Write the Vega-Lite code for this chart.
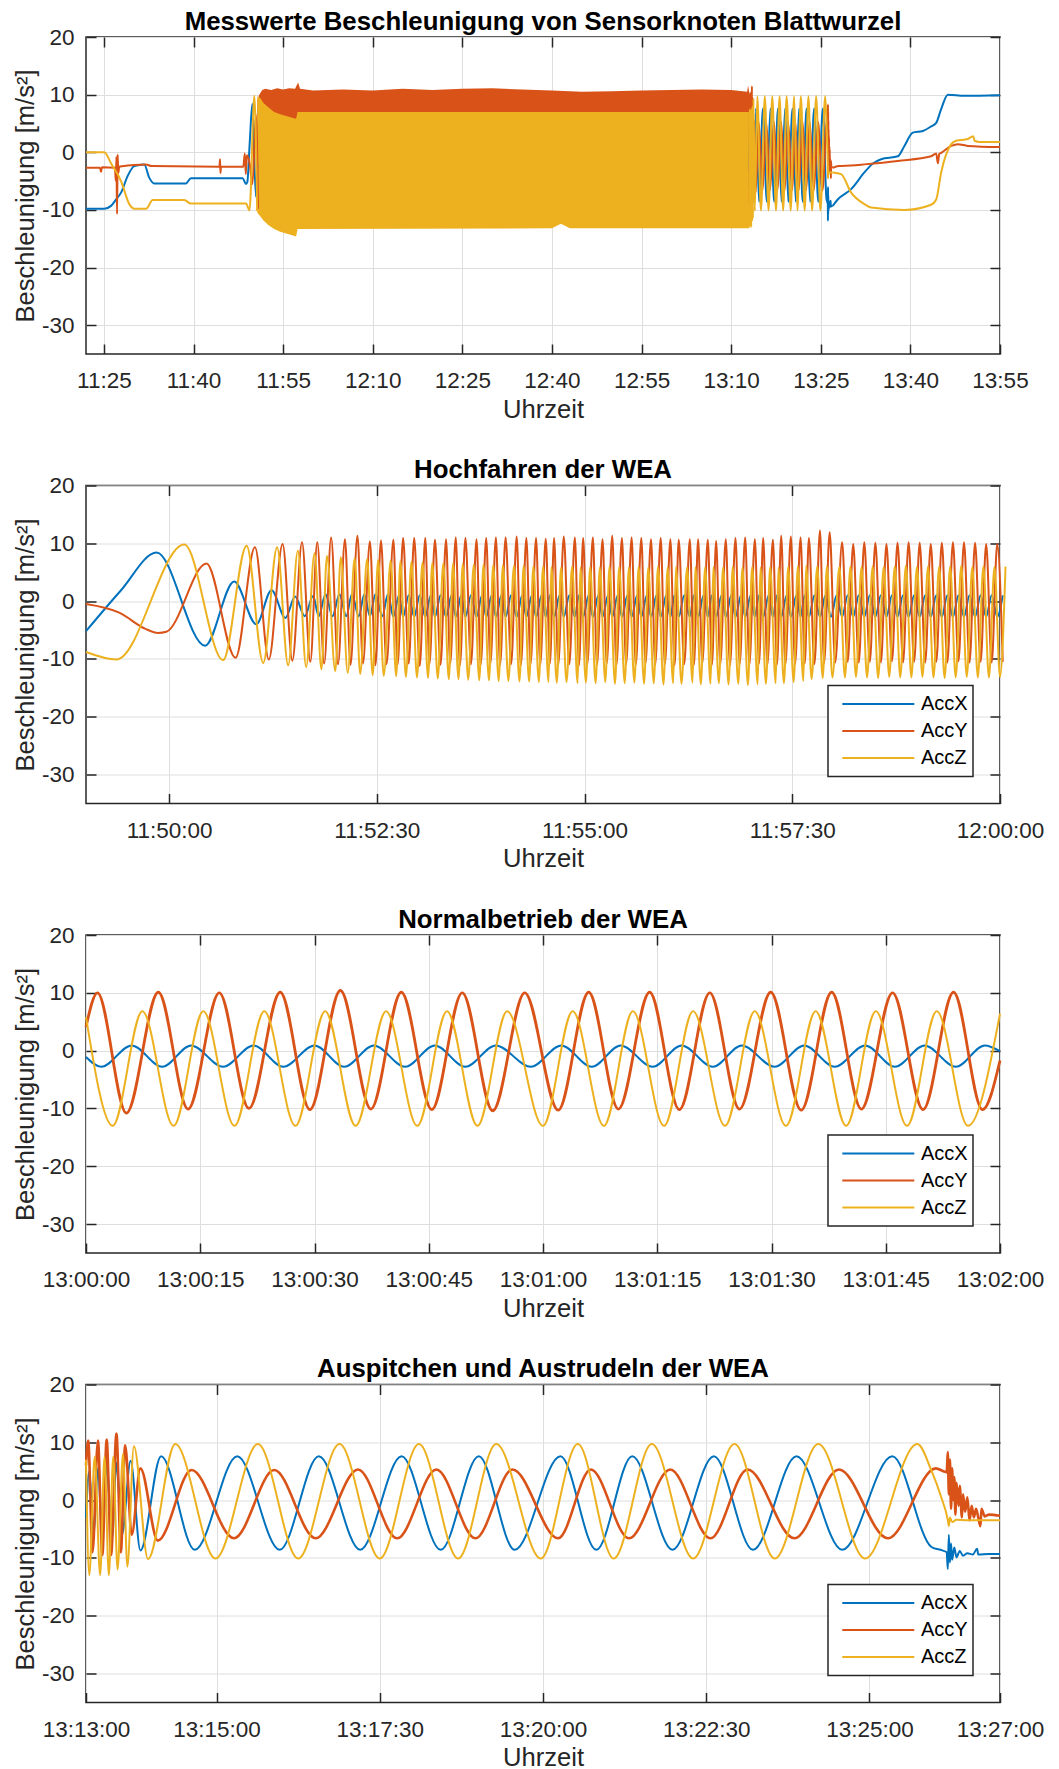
{
  "$schema": "https://vega.github.io/schema/vega-lite/v6.json",
  "background": "white",
  "padding": {"left": 12, "top": 7, "right": 0, "bottom": 0},
  "spacing": 31.5,
  "config": {
    "font": "Liberation Sans",
    "view": {"stroke": "#262626", "strokeWidth": 1.5},
    "axis": {
      "labelFont": "Liberation Sans", "labelFontSize": 22.5, "labelColor": "#262626",
      "titleFont": "Liberation Sans", "titleFontSize": 25.6, "titleFontWeight": "normal", "titleColor": "#262626",
      "tickColor": "#262626", "tickWidth": 1.5, "tickSize": -10, "domain": false,
      "gridColor": "#dedede", "gridWidth": 1,
      "labelOverlap": false, "labelFlush": false, "labelBound": false
    },
    "axisX": {"labelPadding": 25.6, "titlePadding": 5},
    "axisY": {"labelPadding": 22, "titlePadding": 3, "labelExpr": "'' + datum.value"},
    "title": {"font": "Liberation Sans", "fontSize": 25.8, "fontWeight": "bold", "color": "#000000", "anchor": "middle", "frame": "group", "offset": -9.5, "baseline": "alphabetic"},
    "legend": {
      "orient": "none", "legendX": 742, "legendY": 200,
      "labelFont": "Liberation Sans", "labelFontSize": 20, "labelColor": "#000000",
      "symbolType": "stroke", "symbolSize": 5184, "symbolStrokeWidth": 2.5,
      "clipHeight": 27, "rowPadding": 0, "labelOffset": 5.7, "symbolOffset": 8.3,
      "padding": 5, "strokeColor": "#262626", "strokeWidth": 1.5, "fillColor": "#ffffff", "cornerRadius": 0
    },
    "line": {"strokeWidth": 2, "interpolate": "monotone", "clip": true},
    "area": {"clip": true}
  },
  "resolve": {"scale": {"color": "independent"}, "legend": {"color": "independent"}},
  "datasets": {
    "band": [
      {"t": "11:50:40", "s": "AccX", "lo": -4.0, "hi": 3.4},
      {"t": "11:51:20", "s": "AccX", "lo": -2.9, "hi": 1.9},
      {"t": "11:52:00", "s": "AccX", "lo": -2.7, "hi": 1.1},
      {"t": "13:13:00", "s": "AccX", "lo": -2.7, "hi": 1.0},
      {"t": "11:50:40", "s": "AccY", "lo": -10.0, "hi": 9.0},
      {"t": "11:51:00", "s": "AccY", "lo": -10.3, "hi": 10.0},
      {"t": "11:51:30", "s": "AccY", "lo": -10.6, "hi": 10.8},
      {"t": "11:52:00", "s": "AccY", "lo": -10.8, "hi": 11.0},
      {"t": "11:53:00", "s": "AccY", "lo": -10.8, "hi": 10.8},
      {"t": "11:54:00", "s": "AccY", "lo": -10.8, "hi": 11.1},
      {"t": "11:55:00", "s": "AccY", "lo": -10.8, "hi": 10.9},
      {"t": "11:56:00", "s": "AccY", "lo": -10.8, "hi": 11.1},
      {"t": "11:57:00", "s": "AccY", "lo": -10.8, "hi": 11.0},
      {"t": "11:57:30", "s": "AccY", "lo": -10.8, "hi": 12.1},
      {"t": "11:57:50", "s": "AccY", "lo": -10.6, "hi": 11.0},
      {"t": "12:00:00", "s": "AccY", "lo": -10.6, "hi": 10.7},
      {"t": "12:05:00", "s": "AccY", "lo": -10.6, "hi": 10.9},
      {"t": "12:10:00", "s": "AccY", "lo": -10.6, "hi": 10.7},
      {"t": "12:15:00", "s": "AccY", "lo": -10.6, "hi": 11.0},
      {"t": "12:20:00", "s": "AccY", "lo": -10.6, "hi": 10.8},
      {"t": "12:25:00", "s": "AccY", "lo": -10.6, "hi": 11.0},
      {"t": "12:30:00", "s": "AccY", "lo": -10.6, "hi": 11.1},
      {"t": "12:35:00", "s": "AccY", "lo": -10.6, "hi": 10.9},
      {"t": "12:40:00", "s": "AccY", "lo": -10.6, "hi": 10.7},
      {"t": "12:45:00", "s": "AccY", "lo": -10.6, "hi": 10.5},
      {"t": "12:50:00", "s": "AccY", "lo": -10.6, "hi": 10.6},
      {"t": "12:55:00", "s": "AccY", "lo": -10.6, "hi": 10.7},
      {"t": "13:00:00", "s": "AccY", "lo": -10.6, "hi": 10.8},
      {"t": "13:05:00", "s": "AccY", "lo": -10.6, "hi": 10.9},
      {"t": "13:10:00", "s": "AccY", "lo": -10.6, "hi": 10.8},
      {"t": "13:12:40", "s": "AccY", "lo": -10.6, "hi": 10.5},
      {"t": "13:12:50", "s": "AccY", "lo": -10.6, "hi": 11.6},
      {"t": "13:13:00", "s": "AccY", "lo": -10.6, "hi": 10.5},
      {"t": "11:50:40", "s": "AccZ", "lo": -10.5, "hi": 9.7},
      {"t": "11:51:10", "s": "AccZ", "lo": -11.1, "hi": 9.4},
      {"t": "11:51:40", "s": "AccZ", "lo": -11.8, "hi": 8.6},
      {"t": "11:52:30", "s": "AccZ", "lo": -12.6, "hi": 7.8},
      {"t": "11:53:30", "s": "AccZ", "lo": -13.3, "hi": 7.0},
      {"t": "11:54:30", "s": "AccZ", "lo": -13.8, "hi": 6.6},
      {"t": "11:55:30", "s": "AccZ", "lo": -14.1, "hi": 6.3},
      {"t": "11:56:30", "s": "AccZ", "lo": -14.4, "hi": 6.0},
      {"t": "11:57:10", "s": "AccZ", "lo": -14.6, "hi": 5.8},
      {"t": "11:57:25", "s": "AccZ", "lo": -13.3, "hi": 7.0},
      {"t": "12:40:00", "s": "AccZ", "lo": -13.2, "hi": 7.0},
      {"t": "12:41:30", "s": "AccZ", "lo": -12.4, "hi": 7.0},
      {"t": "12:43:00", "s": "AccZ", "lo": -13.2, "hi": 7.0},
      {"t": "13:13:00", "s": "AccZ", "lo": -13.2, "hi": 7.0}
    ],
    "p1a": [
      {"t": "11:22:00", "s": "AccX", "v": -9.8}, {"t": "11:25:04", "s": "AccX", "v": -9.8}, {"t": "11:26:11", "s": "AccX", "v": -9.3},
      {"t": "11:27:01", "s": "AccX", "v": -8.2}, {"t": "11:27:52", "s": "AccX", "v": -7.0}, {"t": "11:28:59", "s": "AccX", "v": -4.1},
      {"t": "11:30:04", "s": "AccX", "v": -2.4}, {"t": "11:31:45", "s": "AccX", "v": -2.1}, {"t": "11:32:35", "s": "AccX", "v": -4.4},
      {"t": "11:33:26", "s": "AccX", "v": -5.4}, {"t": "11:38:44", "s": "AccX", "v": -5.4}, {"t": "11:39:34", "s": "AccX", "v": -4.5},
      {"t": "11:48:14", "s": "AccX", "v": -4.5}, {"t": "11:48:47", "s": "AccX", "v": -5.5}, {"t": "11:49:00", "s": "AccX", "v": -5.2},
      {"t": "11:49:25", "s": "AccX", "v": 1.8}, {"t": "11:49:51", "s": "AccX", "v": 8.4}, {"t": "11:50:26", "s": "AccX", "v": -7.7},
      {"t": "11:50:40", "s": "AccX", "v": -2.0},
      {"t": "11:22:00", "s": "AccY", "v": -2.7}, {"t": "11:24:20", "s": "AccY", "v": -2.7}, {"t": "11:24:31", "s": "AccY", "v": -3.4},
      {"t": "11:24:40", "s": "AccY", "v": -2.6}, {"t": "11:26:50", "s": "AccY", "v": -2.7}, {"t": "11:27:00", "s": "AccY", "v": -5.0},
      {"t": "11:27:05", "s": "AccY", "v": -0.8}, {"t": "11:27:12", "s": "AccY", "v": -10.7}, {"t": "11:27:18", "s": "AccY", "v": -0.4},
      {"t": "11:27:24", "s": "AccY", "v": -3.6}, {"t": "11:27:35", "s": "AccY", "v": -2.5}, {"t": "11:30:00", "s": "AccY", "v": -2.2},
      {"t": "11:32:00", "s": "AccY", "v": -2.1}, {"t": "11:33:00", "s": "AccY", "v": -2.4}, {"t": "11:44:20", "s": "AccY", "v": -2.5},
      {"t": "11:44:26", "s": "AccY", "v": -1.2}, {"t": "11:44:30", "s": "AccY", "v": -3.6}, {"t": "11:44:36", "s": "AccY", "v": -2.5},
      {"t": "11:48:20", "s": "AccY", "v": -2.5}, {"t": "11:48:35", "s": "AccY", "v": -0.2}, {"t": "11:48:45", "s": "AccY", "v": -3.8},
      {"t": "11:48:55", "s": "AccY", "v": -0.5}, {"t": "11:49:24", "s": "AccY", "v": -2.0}, {"t": "11:49:43", "s": "AccY", "v": -4.8},
      {"t": "11:49:52", "s": "AccY", "v": -5.5}, {"t": "11:50:27", "s": "AccY", "v": 6.5}, {"t": "11:50:48", "s": "AccY", "v": -9.8},
      {"t": "11:22:00", "s": "AccZ", "v": 0.0}, {"t": "11:25:04", "s": "AccZ", "v": 0.0}, {"t": "11:26:11", "s": "AccZ", "v": -1.9},
      {"t": "11:27:52", "s": "AccZ", "v": -5.0}, {"t": "11:29:15", "s": "AccZ", "v": -9.0}, {"t": "11:30:04", "s": "AccZ", "v": -9.8},
      {"t": "11:32:03", "s": "AccZ", "v": -9.8}, {"t": "11:33:10", "s": "AccZ", "v": -8.3}, {"t": "11:38:27", "s": "AccZ", "v": -8.3},
      {"t": "11:39:34", "s": "AccZ", "v": -8.9}, {"t": "11:48:47", "s": "AccZ", "v": -8.9}, {"t": "11:49:22", "s": "AccZ", "v": -10.1},
      {"t": "11:50:11", "s": "AccZ", "v": 9.8}, {"t": "11:50:39", "s": "AccZ", "v": -10.2}
    ],
    "p1b": [
      {"t": "13:27:00", "s": "AccX", "v": -9.3}, {"t": "13:27:50", "s": "AccX", "v": -8.2}, {"t": "13:30:05", "s": "AccX", "v": -6.4},
      {"t": "13:32:18", "s": "AccX", "v": -3.5}, {"t": "13:33:40", "s": "AccX", "v": -2.0}, {"t": "13:35:06", "s": "AccX", "v": -1.2},
      {"t": "13:37:54", "s": "AccX", "v": -0.7}, {"t": "13:39:00", "s": "AccX", "v": 1.1}, {"t": "13:40:24", "s": "AccX", "v": 3.4},
      {"t": "13:42:05", "s": "AccX", "v": 3.7}, {"t": "13:43:29", "s": "AccX", "v": 4.5}, {"t": "13:44:19", "s": "AccX", "v": 5.1},
      {"t": "13:45:09", "s": "AccX", "v": 7.5}, {"t": "13:46:16", "s": "AccX", "v": 10.0}, {"t": "13:49:03", "s": "AccX", "v": 9.8},
      {"t": "13:55:00", "s": "AccX", "v": 9.9},
      {"t": "13:27:00", "s": "AccY", "v": -2.7}, {"t": "13:28:00", "s": "AccY", "v": -2.4}, {"t": "13:30:05", "s": "AccY", "v": -2.3},
      {"t": "13:32:18", "s": "AccY", "v": -2.1}, {"t": "13:37:54", "s": "AccY", "v": -1.5}, {"t": "13:43:29", "s": "AccY", "v": -0.7},
      {"t": "13:44:19", "s": "AccY", "v": -0.2}, {"t": "13:44:36", "s": "AccY", "v": -1.9}, {"t": "13:44:50", "s": "AccY", "v": -0.3},
      {"t": "13:45:09", "s": "AccY", "v": -0.1}, {"t": "13:46:50", "s": "AccY", "v": 1.1}, {"t": "13:47:57", "s": "AccY", "v": 1.4},
      {"t": "13:49:36", "s": "AccY", "v": 1.1}, {"t": "13:55:00", "s": "AccY", "v": 0.9},
      {"t": "13:27:00", "s": "AccZ", "v": -3.5}, {"t": "13:28:24", "s": "AccZ", "v": -3.8}, {"t": "13:30:05", "s": "AccZ", "v": -7.0},
      {"t": "13:32:18", "s": "AccZ", "v": -9.0}, {"t": "13:33:25", "s": "AccZ", "v": -9.6}, {"t": "13:39:00", "s": "AccZ", "v": -10.0},
      {"t": "13:43:29", "s": "AccZ", "v": -9.1}, {"t": "13:44:19", "s": "AccZ", "v": -8.2}, {"t": "13:45:09", "s": "AccZ", "v": -3.5},
      {"t": "13:46:50", "s": "AccZ", "v": 1.4}, {"t": "13:47:40", "s": "AccZ", "v": 2.0}, {"t": "13:49:36", "s": "AccZ", "v": 2.3},
      {"t": "13:50:30", "s": "AccZ", "v": 2.8}, {"t": "13:50:45", "s": "AccZ", "v": 2.0}, {"t": "13:51:33", "s": "AccZ", "v": 1.8},
      {"t": "13:55:00", "s": "AccZ", "v": 1.8}
    ],
    "p2": [
      {"t":"11:49:00","s":"AccX","v":-5.2},{"t":"11:49:25","s":"AccX","v":1.8},{"t":"11:49:51","s":"AccX","v":8.4},{"t":"11:50:26","s":"AccX","v":-7.7},
      {"t":"11:50:47","s":"AccX","v":3.4},{"t":"11:51:03","s":"AccX","v":-4.0},{"t":"11:51:14","s":"AccX","v":1.9},{"t":"11:51:24","s":"AccX","v":-2.9},
      {"t":"11:51:31","s":"AccX","v":0.8},{"t":"11:51:38","s":"AccX","v":-2.6},{"t":"11:51:44","s":"AccX","v":0.9},
      {"t":"11:51:48","s":"AccX","v":-2.6},{"t":"11:51:53","s":"AccX","v":1.2},{"t":"11:51:58","s":"AccX","v":-2.6},{"t":"11:52:03","s":"AccX","v":1.2},
      {"t":"11:52:08","s":"AccX","v":-2.6},{"t":"11:52:12","s":"AccX","v":1.2},{"t":"11:52:17","s":"AccX","v":-2.6},{"t":"11:52:21","s":"AccX","v":1.2},
      {"t":"11:52:25","s":"AccX","v":-2.6},{"t":"11:52:29","s":"AccX","v":1.2},{"t":"11:52:34","s":"AccX","v":-2.6},{"t":"11:52:38","s":"AccX","v":1.2},
      {"t":"11:52:42","s":"AccX","v":-2.7},{"t":"11:52:46","s":"AccX","v":1.0},{"t":"11:52:49","s":"AccX","v":-2.7},{"t":"11:52:53","s":"AccX","v":1.0},
      {"t":"11:52:57","s":"AccX","v":-2.7},{"t":"11:53:01","s":"AccX","v":1.0},{"t":"11:53:05","s":"AccX","v":-2.7},{"t":"11:53:09","s":"AccX","v":1.0},
      {"t":"11:53:12","s":"AccX","v":-2.7},{"t":"11:53:16","s":"AccX","v":1.0},{"t":"11:53:20","s":"AccX","v":-2.7},{"t":"11:53:24","s":"AccX","v":1.0},
      {"t":"11:53:27","s":"AccX","v":-2.7},{"t":"11:53:31","s":"AccX","v":1.0},{"t":"11:53:34","s":"AccX","v":-2.7},{"t":"11:53:38","s":"AccX","v":1.0},
      {"t":"11:53:42","s":"AccX","v":-2.7},{"t":"11:53:46","s":"AccX","v":1.0},{"t":"11:53:49","s":"AccX","v":-2.7},{"t":"11:53:53","s":"AccX","v":1.0},
      {"t":"11:53:56","s":"AccX","v":-2.7},{"t":"11:54:00","s":"AccX","v":1.0},{"t":"11:54:03","s":"AccX","v":-2.7},{"t":"11:54:07","s":"AccX","v":1.0},
      {"t":"11:54:11","s":"AccX","v":-2.7},{"t":"11:54:15","s":"AccX","v":1.0},{"t":"11:54:18","s":"AccX","v":-2.7},{"t":"11:54:22","s":"AccX","v":1.0},
      {"t":"11:54:25","s":"AccX","v":-2.7},{"t":"11:54:29","s":"AccX","v":1.0},{"t":"11:54:32","s":"AccX","v":-2.7},{"t":"11:54:35","s":"AccX","v":1.0},
      {"t":"11:54:38","s":"AccX","v":-2.7},{"t":"11:54:42","s":"AccX","v":1.0},{"t":"11:54:45","s":"AccX","v":-2.7},{"t":"11:54:49","s":"AccX","v":1.0},
      {"t":"11:54:53","s":"AccX","v":-2.7},{"t":"11:54:56","s":"AccX","v":1.0},{"t":"11:54:59","s":"AccX","v":-2.7},{"t":"11:55:03","s":"AccX","v":1.0},
      {"t":"11:55:06","s":"AccX","v":-2.7},{"t":"11:55:10","s":"AccX","v":1.0},{"t":"11:55:13","s":"AccX","v":-2.7},{"t":"11:55:17","s":"AccX","v":1.0},
      {"t":"11:55:20","s":"AccX","v":-2.7},{"t":"11:55:24","s":"AccX","v":1.0},{"t":"11:55:27","s":"AccX","v":-2.7},{"t":"11:55:31","s":"AccX","v":1.0},
      {"t":"11:55:34","s":"AccX","v":-2.7},{"t":"11:55:38","s":"AccX","v":1.0},{"t":"11:55:41","s":"AccX","v":-2.7},{"t":"11:55:45","s":"AccX","v":1.0},
      {"t":"11:55:48","s":"AccX","v":-2.7},{"t":"11:55:52","s":"AccX","v":1.0},{"t":"11:55:55","s":"AccX","v":-2.7},{"t":"11:55:59","s":"AccX","v":1.0},
      {"t":"11:56:02","s":"AccX","v":-2.7},{"t":"11:56:05","s":"AccX","v":1.0},{"t":"11:56:08","s":"AccX","v":-2.7},{"t":"11:56:12","s":"AccX","v":1.0},
      {"t":"11:56:16","s":"AccX","v":-2.7},{"t":"11:56:19","s":"AccX","v":1.0},{"t":"11:56:22","s":"AccX","v":-2.7},{"t":"11:56:26","s":"AccX","v":1.0},
      {"t":"11:56:29","s":"AccX","v":-2.7},{"t":"11:56:32","s":"AccX","v":1.0},{"t":"11:56:35","s":"AccX","v":-2.7},{"t":"11:56:39","s":"AccX","v":1.0},
      {"t":"11:56:42","s":"AccX","v":-2.7},{"t":"11:56:46","s":"AccX","v":1.0},{"t":"11:56:49","s":"AccX","v":-2.7},{"t":"11:56:53","s":"AccX","v":1.0},
      {"t":"11:56:56","s":"AccX","v":-2.7},{"t":"11:57:00","s":"AccX","v":1.0},{"t":"11:57:03","s":"AccX","v":-2.7},{"t":"11:57:06","s":"AccX","v":1.0},
      {"t":"11:57:09","s":"AccX","v":-2.7},{"t":"11:57:13","s":"AccX","v":1.0},{"t":"11:57:16","s":"AccX","v":-2.7},{"t":"11:57:19","s":"AccX","v":1.0},
      {"t":"11:57:22","s":"AccX","v":-2.7},{"t":"11:57:26","s":"AccX","v":1.0},{"t":"11:57:29","s":"AccX","v":-2.7},{"t":"11:57:33","s":"AccX","v":1.0},
      {"t":"11:57:36","s":"AccX","v":-2.7},{"t":"11:57:39","s":"AccX","v":1.0},{"t":"11:57:42","s":"AccX","v":-2.7},{"t":"11:57:46","s":"AccX","v":1.0},
      {"t":"11:57:50","s":"AccX","v":-2.7},{"t":"11:57:54","s":"AccX","v":1.0},{"t":"11:57:58","s":"AccX","v":-2.7},{"t":"11:58:02","s":"AccX","v":1.0},
      {"t":"11:58:06","s":"AccX","v":-2.7},{"t":"11:58:10","s":"AccX","v":1.0},{"t":"11:58:14","s":"AccX","v":-2.7},{"t":"11:58:18","s":"AccX","v":1.0},
      {"t":"11:58:22","s":"AccX","v":-2.7},{"t":"11:58:26","s":"AccX","v":1.0},{"t":"11:58:30","s":"AccX","v":-2.7},{"t":"11:58:34","s":"AccX","v":1.0},
      {"t":"11:58:38","s":"AccX","v":-2.7},{"t":"11:58:42","s":"AccX","v":1.0},{"t":"11:58:46","s":"AccX","v":-2.7},{"t":"11:58:50","s":"AccX","v":1.0},
      {"t":"11:58:54","s":"AccX","v":-2.7},{"t":"11:58:58","s":"AccX","v":1.0},{"t":"11:59:02","s":"AccX","v":-2.7},{"t":"11:59:06","s":"AccX","v":1.0},
      {"t":"11:59:10","s":"AccX","v":-2.7},{"t":"11:59:14","s":"AccX","v":1.0},{"t":"11:59:18","s":"AccX","v":-2.7},{"t":"11:59:22","s":"AccX","v":1.0},
      {"t":"11:59:26","s":"AccX","v":-2.7},{"t":"11:59:30","s":"AccX","v":1.0},{"t":"11:59:34","s":"AccX","v":-2.7},{"t":"11:59:38","s":"AccX","v":1.0},
      {"t":"11:59:42","s":"AccX","v":-2.7},{"t":"11:59:46","s":"AccX","v":1.0},{"t":"11:59:50","s":"AccX","v":-2.7},{"t":"11:59:54","s":"AccX","v":1.0},
      {"t":"11:59:58","s":"AccX","v":-2.7},{"t":"12:00:02","s":"AccX","v":1.0},

      {"t":"11:49:00","s":"AccY","v":-0.5},{"t":"11:49:24","s":"AccY","v":-2.0},{"t":"11:49:43","s":"AccY","v":-4.8},{"t":"11:49:52","s":"AccY","v":-5.5},
      {"t":"11:49:58","s":"AccY","v":-5.3},{"t":"11:50:27","s":"AccY","v":6.5},{"t":"11:50:48","s":"AccY","v":-9.8},{"t":"11:51:02","s":"AccY","v":9.3},
      {"t":"11:51:12","s":"AccY","v":-10.1},{"t":"11:51:22","s":"AccY","v":9.9},{"t":"11:51:29","s":"AccY","v":-10.3},{"t":"11:51:36","s":"AccY","v":10.2},
      {"t":"11:51:42","s":"AccY","v":-10.5},
      {"t":"11:51:47","s":"AccY","v":10.2},{"t":"11:51:52","s":"AccY","v":-10.8},{"t":"11:51:57","s":"AccY","v":11.0},{"t":"11:52:02","s":"AccY","v":-10.9},
      {"t":"11:52:07","s":"AccY","v":10.7},{"t":"11:52:11","s":"AccY","v":-11.0},{"t":"11:52:16","s":"AccY","v":11.3},{"t":"11:52:20","s":"AccY","v":-10.8},
      {"t":"11:52:25","s":"AccY","v":10.3},{"t":"11:52:29","s":"AccY","v":-11.1},{"t":"11:52:33","s":"AccY","v":10.5},{"t":"11:52:37","s":"AccY","v":-10.9},
      {"t":"11:52:42","s":"AccY","v":10.6},{"t":"11:52:45","s":"AccY","v":-11.0},{"t":"11:52:49","s":"AccY","v":10.9},{"t":"11:52:53","s":"AccY","v":-10.8},
      {"t":"11:52:57","s":"AccY","v":10.9},{"t":"11:53:01","s":"AccY","v":-11.2},{"t":"11:53:05","s":"AccY","v":10.9},{"t":"11:53:08","s":"AccY","v":-10.9},
      {"t":"11:53:12","s":"AccY","v":10.6},{"t":"11:53:16","s":"AccY","v":-11.0},{"t":"11:53:20","s":"AccY","v":10.7},{"t":"11:53:23","s":"AccY","v":-10.8},
      {"t":"11:53:27","s":"AccY","v":11.0},{"t":"11:53:30","s":"AccY","v":-11.1},{"t":"11:53:34","s":"AccY","v":10.9},{"t":"11:53:38","s":"AccY","v":-10.9},
      {"t":"11:53:42","s":"AccY","v":10.7},{"t":"11:53:45","s":"AccY","v":-11.0},{"t":"11:53:49","s":"AccY","v":10.9},{"t":"11:53:52","s":"AccY","v":-10.8},
      {"t":"11:53:56","s":"AccY","v":11.0},{"t":"11:53:59","s":"AccY","v":-11.0},{"t":"11:54:03","s":"AccY","v":11.0},{"t":"11:54:07","s":"AccY","v":-10.9},
      {"t":"11:54:11","s":"AccY","v":11.2},{"t":"11:54:14","s":"AccY","v":-11.1},{"t":"11:54:18","s":"AccY","v":10.9},{"t":"11:54:21","s":"AccY","v":-10.9},
      {"t":"11:54:25","s":"AccY","v":10.9},{"t":"11:54:28","s":"AccY","v":-11.0},{"t":"11:54:32","s":"AccY","v":10.8},{"t":"11:54:35","s":"AccY","v":-10.8},
      {"t":"11:54:38","s":"AccY","v":10.9},{"t":"11:54:41","s":"AccY","v":-11.0},{"t":"11:54:45","s":"AccY","v":11.2},{"t":"11:54:49","s":"AccY","v":-10.9},
      {"t":"11:54:53","s":"AccY","v":11.0},{"t":"11:54:56","s":"AccY","v":-11.1},{"t":"11:54:59","s":"AccY","v":10.9},{"t":"11:55:02","s":"AccY","v":-10.9},
      {"t":"11:55:06","s":"AccY","v":11.0},{"t":"11:55:09","s":"AccY","v":-11.0},{"t":"11:55:13","s":"AccY","v":10.7},{"t":"11:55:16","s":"AccY","v":-10.8},
      {"t":"11:55:20","s":"AccY","v":11.3},{"t":"11:55:23","s":"AccY","v":-11.1},{"t":"11:55:27","s":"AccY","v":10.9},{"t":"11:55:30","s":"AccY","v":-10.9},
      {"t":"11:55:34","s":"AccY","v":11.0},{"t":"11:55:37","s":"AccY","v":-11.0},{"t":"11:55:41","s":"AccY","v":10.9},{"t":"11:55:44","s":"AccY","v":-10.8},
      {"t":"11:55:48","s":"AccY","v":10.7},{"t":"11:55:51","s":"AccY","v":-11.0},{"t":"11:55:55","s":"AccY","v":10.9},{"t":"11:55:58","s":"AccY","v":-10.9},
      {"t":"11:56:02","s":"AccY","v":10.7},{"t":"11:56:05","s":"AccY","v":-11.1},{"t":"11:56:08","s":"AccY","v":10.6},{"t":"11:56:12","s":"AccY","v":-10.9},
      {"t":"11:56:16","s":"AccY","v":10.7},{"t":"11:56:19","s":"AccY","v":-11.0},{"t":"11:56:22","s":"AccY","v":10.7},{"t":"11:56:25","s":"AccY","v":-10.8},
      {"t":"11:56:29","s":"AccY","v":10.6},{"t":"11:56:32","s":"AccY","v":-11.0},{"t":"11:56:35","s":"AccY","v":10.4},{"t":"11:56:38","s":"AccY","v":-10.9},
      {"t":"11:56:42","s":"AccY","v":10.7},{"t":"11:56:45","s":"AccY","v":-11.1},{"t":"11:56:49","s":"AccY","v":10.9},{"t":"11:56:52","s":"AccY","v":-10.9},
      {"t":"11:56:56","s":"AccY","v":11.0},{"t":"11:56:59","s":"AccY","v":-11.0},{"t":"11:57:03","s":"AccY","v":10.7},{"t":"11:57:06","s":"AccY","v":-10.8},
      {"t":"11:57:09","s":"AccY","v":10.9},{"t":"11:57:12","s":"AccY","v":-11.0},{"t":"11:57:16","s":"AccY","v":10.6},{"t":"11:57:19","s":"AccY","v":-10.9},
      {"t":"11:57:22","s":"AccY","v":11.3},{"t":"11:57:25","s":"AccY","v":-11.0},{"t":"11:57:29","s":"AccY","v":11.2},{"t":"11:57:32","s":"AccY","v":-10.9},
      {"t":"11:57:36","s":"AccY","v":11.0},{"t":"11:57:39","s":"AccY","v":-10.8},{"t":"11:57:42","s":"AccY","v":10.9},{"t":"11:57:46","s":"AccY","v":-10.9},
      {"t":"11:57:50","s":"AccY","v":12.2},{"t":"11:57:53","s":"AccY","v":-10.7},{"t":"11:57:57","s":"AccY","v":11.9},{"t":"11:58:01","s":"AccY","v":-10.6},
      {"t":"11:58:06","s":"AccY","v":10.2},{"t":"11:58:10","s":"AccY","v":-10.5},{"t":"11:58:14","s":"AccY","v":9.9},{"t":"11:58:18","s":"AccY","v":-10.6},
      {"t":"11:58:22","s":"AccY","v":10.2},{"t":"11:58:26","s":"AccY","v":-10.5},{"t":"11:58:30","s":"AccY","v":10.1},{"t":"11:58:34","s":"AccY","v":-10.6},
      {"t":"11:58:38","s":"AccY","v":9.9},{"t":"11:58:42","s":"AccY","v":-10.4},{"t":"11:58:46","s":"AccY","v":10.1},{"t":"11:58:50","s":"AccY","v":-10.6},
      {"t":"11:58:54","s":"AccY","v":10.2},{"t":"11:58:58","s":"AccY","v":-10.5},{"t":"11:59:02","s":"AccY","v":10.1},{"t":"11:59:06","s":"AccY","v":-10.6},
      {"t":"11:59:10","s":"AccY","v":9.9},{"t":"11:59:14","s":"AccY","v":-10.5},{"t":"11:59:18","s":"AccY","v":10.1},{"t":"11:59:22","s":"AccY","v":-10.6},
      {"t":"11:59:26","s":"AccY","v":10.2},{"t":"11:59:30","s":"AccY","v":-10.4},{"t":"11:59:34","s":"AccY","v":10.2},{"t":"11:59:38","s":"AccY","v":-10.6},
      {"t":"11:59:42","s":"AccY","v":10.1},{"t":"11:59:46","s":"AccY","v":-10.5},{"t":"11:59:50","s":"AccY","v":9.9},{"t":"11:59:54","s":"AccY","v":-10.6},
      {"t":"11:59:58","s":"AccY","v":9.9},{"t":"12:00:02","s":"AccY","v":-10.5},

      {"t":"11:49:00","s":"AccZ","v":-8.8},{"t":"11:49:22","s":"AccZ","v":-10.1},{"t":"11:50:11","s":"AccZ","v":9.8},{"t":"11:50:39","s":"AccZ","v":-10.2},
      {"t":"11:50:56","s":"AccZ","v":9.6},{"t":"11:51:08","s":"AccZ","v":-10.7},{"t":"11:51:18","s":"AccZ","v":9.3},{"t":"11:51:26","s":"AccZ","v":-11.1},
      {"t":"11:51:33","s":"AccZ","v":8.7},{"t":"11:51:39","s":"AccZ","v":-11.4},{"t":"11:51:45","s":"AccZ","v":8.3},
      {"t":"11:51:50","s":"AccZ","v":-11.8},{"t":"11:51:54","s":"AccZ","v":7.8},{"t":"11:52:00","s":"AccZ","v":-12.1},{"t":"11:52:04","s":"AccZ","v":7.6},
      {"t":"11:52:09","s":"AccZ","v":-12.4},{"t":"11:52:14","s":"AccZ","v":7.4},{"t":"11:52:18","s":"AccZ","v":-12.6},{"t":"11:52:23","s":"AccZ","v":7.3},
      {"t":"11:52:27","s":"AccZ","v":-12.8},{"t":"11:52:31","s":"AccZ","v":7.1},{"t":"11:52:35","s":"AccZ","v":-12.9},{"t":"11:52:40","s":"AccZ","v":7.0},
      {"t":"11:52:44","s":"AccZ","v":-13.0},{"t":"11:52:47","s":"AccZ","v":6.9},{"t":"11:52:51","s":"AccZ","v":-13.1},{"t":"11:52:55","s":"AccZ","v":6.8},
      {"t":"11:52:59","s":"AccZ","v":-13.2},{"t":"11:53:03","s":"AccZ","v":6.7},{"t":"11:53:07","s":"AccZ","v":-13.3},{"t":"11:53:10","s":"AccZ","v":6.6},
      {"t":"11:53:14","s":"AccZ","v":-13.4},{"t":"11:53:18","s":"AccZ","v":6.5},{"t":"11:53:22","s":"AccZ","v":-13.5},{"t":"11:53:25","s":"AccZ","v":6.5},
      {"t":"11:53:29","s":"AccZ","v":-13.5},{"t":"11:53:32","s":"AccZ","v":6.4},{"t":"11:53:36","s":"AccZ","v":-13.6},{"t":"11:53:40","s":"AccZ","v":6.3},
      {"t":"11:53:44","s":"AccZ","v":-13.7},{"t":"11:53:47","s":"AccZ","v":6.3},{"t":"11:53:51","s":"AccZ","v":-13.7},{"t":"11:53:54","s":"AccZ","v":6.2},
      {"t":"11:53:58","s":"AccZ","v":-13.8},{"t":"11:54:01","s":"AccZ","v":6.2},{"t":"11:54:05","s":"AccZ","v":-13.8},{"t":"11:54:09","s":"AccZ","v":6.1},
      {"t":"11:54:13","s":"AccZ","v":-13.9},{"t":"11:54:16","s":"AccZ","v":6.1},{"t":"11:54:20","s":"AccZ","v":-13.9},{"t":"11:54:23","s":"AccZ","v":6.0},
      {"t":"11:54:27","s":"AccZ","v":-14.0},{"t":"11:54:30","s":"AccZ","v":6.0},{"t":"11:54:34","s":"AccZ","v":-14.0},{"t":"11:54:36","s":"AccZ","v":5.9},
      {"t":"11:54:40","s":"AccZ","v":-14.1},{"t":"11:54:43","s":"AccZ","v":5.8},{"t":"11:54:47","s":"AccZ","v":-14.0},{"t":"11:54:51","s":"AccZ","v":6.0},
      {"t":"11:54:55","s":"AccZ","v":-14.2},{"t":"11:54:57","s":"AccZ","v":5.8},{"t":"11:55:01","s":"AccZ","v":-14.1},{"t":"11:55:04","s":"AccZ","v":5.9},
      {"t":"11:55:08","s":"AccZ","v":-14.2},{"t":"11:55:11","s":"AccZ","v":5.8},{"t":"11:55:15","s":"AccZ","v":-14.0},{"t":"11:55:18","s":"AccZ","v":6.0},
      {"t":"11:55:22","s":"AccZ","v":-14.3},{"t":"11:55:25","s":"AccZ","v":5.9},{"t":"11:55:29","s":"AccZ","v":-14.2},{"t":"11:55:32","s":"AccZ","v":5.8},
      {"t":"11:55:36","s":"AccZ","v":-14.1},{"t":"11:55:39","s":"AccZ","v":5.9},{"t":"11:55:43","s":"AccZ","v":-14.3},{"t":"11:55:46","s":"AccZ","v":5.8},
      {"t":"11:55:50","s":"AccZ","v":-14.2},{"t":"11:55:53","s":"AccZ","v":6.0},{"t":"11:55:57","s":"AccZ","v":-14.4},{"t":"11:56:00","s":"AccZ","v":5.8},
      {"t":"11:56:04","s":"AccZ","v":-14.2},{"t":"11:56:06","s":"AccZ","v":5.9},{"t":"11:56:10","s":"AccZ","v":-14.3},{"t":"11:56:14","s":"AccZ","v":5.8},
      {"t":"11:56:18","s":"AccZ","v":-14.1},{"t":"11:56:20","s":"AccZ","v":5.9},{"t":"11:56:24","s":"AccZ","v":-14.4},{"t":"11:56:27","s":"AccZ","v":5.8},
      {"t":"11:56:31","s":"AccZ","v":-14.3},{"t":"11:56:33","s":"AccZ","v":5.9},{"t":"11:56:37","s":"AccZ","v":-14.2},{"t":"11:56:40","s":"AccZ","v":5.8},
      {"t":"11:56:44","s":"AccZ","v":-14.4},{"t":"11:56:47","s":"AccZ","v":5.9},{"t":"11:56:51","s":"AccZ","v":-14.3},{"t":"11:56:54","s":"AccZ","v":5.8},
      {"t":"11:56:58","s":"AccZ","v":-14.5},{"t":"11:57:01","s":"AccZ","v":5.9},{"t":"11:57:05","s":"AccZ","v":-14.4},{"t":"11:57:07","s":"AccZ","v":5.8},
      {"t":"11:57:11","s":"AccZ","v":-14.3},{"t":"11:57:14","s":"AccZ","v":5.9},{"t":"11:57:18","s":"AccZ","v":-14.2},{"t":"11:57:20","s":"AccZ","v":5.8},
      {"t":"11:57:24","s":"AccZ","v":-14.2},{"t":"11:57:27","s":"AccZ","v":5.9},{"t":"11:57:31","s":"AccZ","v":-14.0},{"t":"11:57:34","s":"AccZ","v":6.0},
      {"t":"11:57:38","s":"AccZ","v":-13.8},{"t":"11:57:40","s":"AccZ","v":6.1},{"t":"11:57:44","s":"AccZ","v":-13.5},{"t":"11:57:48","s":"AccZ","v":6.0},
      {"t":"11:57:52","s":"AccZ","v":-13.3},{"t":"11:57:55","s":"AccZ","v":6.0},{"t":"11:57:59","s":"AccZ","v":-13.2},{"t":"11:58:04","s":"AccZ","v":5.9},
      {"t":"11:58:08","s":"AccZ","v":-13.2},{"t":"11:58:12","s":"AccZ","v":6.0},{"t":"11:58:16","s":"AccZ","v":-13.1},{"t":"11:58:20","s":"AccZ","v":5.9},
      {"t":"11:58:24","s":"AccZ","v":-13.2},{"t":"11:58:28","s":"AccZ","v":6.0},{"t":"11:58:32","s":"AccZ","v":-13.3},{"t":"11:58:36","s":"AccZ","v":5.9},
      {"t":"11:58:40","s":"AccZ","v":-13.1},{"t":"11:58:44","s":"AccZ","v":6.0},{"t":"11:58:48","s":"AccZ","v":-13.2},{"t":"11:58:52","s":"AccZ","v":6.1},
      {"t":"11:58:56","s":"AccZ","v":-13.2},{"t":"11:59:00","s":"AccZ","v":5.9},{"t":"11:59:04","s":"AccZ","v":-13.1},{"t":"11:59:08","s":"AccZ","v":6.0},
      {"t":"11:59:12","s":"AccZ","v":-13.2},{"t":"11:59:16","s":"AccZ","v":5.9},{"t":"11:59:20","s":"AccZ","v":-13.3},{"t":"11:59:24","s":"AccZ","v":6.0},
      {"t":"11:59:28","s":"AccZ","v":-13.2},{"t":"11:59:32","s":"AccZ","v":6.1},{"t":"11:59:36","s":"AccZ","v":-13.1},{"t":"11:59:40","s":"AccZ","v":5.9},
      {"t":"11:59:44","s":"AccZ","v":-13.2},{"t":"11:59:48","s":"AccZ","v":6.0},{"t":"11:59:52","s":"AccZ","v":-13.2},{"t":"11:59:56","s":"AccZ","v":5.9},
      {"t":"12:00:00","s":"AccZ","v":-13.1},{"t":"12:00:04","s":"AccZ","v":6.0}
    ],
    "p3": [
      {"t":"13:00:00.000","s":"AccX","v":-1.1},{"t":"13:00:02.000","s":"AccX","v":-2.8},{"t":"13:00:06.000","s":"AccX","v":0.9},
      {"t":"13:00:10.000","s":"AccX","v":-2.8},{"t":"13:00:13.800","s":"AccX","v":0.9},{"t":"13:00:18.000","s":"AccX","v":-2.8},
      {"t":"13:00:22.000","s":"AccX","v":0.9},{"t":"13:00:25.900","s":"AccX","v":-2.8},{"t":"13:00:30.000","s":"AccX","v":0.9},
      {"t":"13:00:33.900","s":"AccX","v":-2.8},{"t":"13:00:37.800","s":"AccX","v":0.9},{"t":"13:00:41.900","s":"AccX","v":-2.8},
      {"t":"13:00:45.800","s":"AccX","v":0.9},{"t":"13:00:49.800","s":"AccX","v":-2.8},{"t":"13:00:53.800","s":"AccX","v":0.9},
      {"t":"13:00:58.400","s":"AccX","v":-2.8},{"t":"13:01:02.400","s":"AccX","v":0.9},{"t":"13:01:06.400","s":"AccX","v":-2.8},
      {"t":"13:01:10.200","s":"AccX","v":0.9},{"t":"13:01:14.400","s":"AccX","v":-2.8},{"t":"13:01:18.200","s":"AccX","v":0.9},
      {"t":"13:01:22.300","s":"AccX","v":-2.8},{"t":"13:01:26.100","s":"AccX","v":0.9},{"t":"13:01:30.400","s":"AccX","v":-2.8},
      {"t":"13:01:34.300","s":"AccX","v":0.9},{"t":"13:01:38.300","s":"AccX","v":-2.8},{"t":"13:01:42.300","s":"AccX","v":0.9},
      {"t":"13:01:46.200","s":"AccX","v":-2.8},{"t":"13:01:50.100","s":"AccX","v":0.9},{"t":"13:01:54.200","s":"AccX","v":-2.8},
      {"t":"13:01:58.000","s":"AccX","v":0.9},{"t":"13:02:00.000","s":"AccX","v":-0.1},

      {"t":"13:00:00.000","s":"AccY","v":4.1},{"t":"13:00:01.500","s":"AccY","v":10.0},{"t":"13:00:05.300","s":"AccY","v":-10.8},
      {"t":"13:00:09.500","s":"AccY","v":10.1},{"t":"13:00:13.400","s":"AccY","v":-10.1},{"t":"13:00:17.500","s":"AccY","v":10.0},
      {"t":"13:00:21.400","s":"AccY","v":-10.0},{"t":"13:00:25.500","s":"AccY","v":10.1},{"t":"13:00:29.400","s":"AccY","v":-10.2},
      {"t":"13:00:33.400","s":"AccY","v":10.4},{"t":"13:00:37.400","s":"AccY","v":-10.1},{"t":"13:00:41.400","s":"AccY","v":10.1},
      {"t":"13:00:45.400","s":"AccY","v":-10.2},{"t":"13:00:49.400","s":"AccY","v":10.0},{"t":"13:00:53.400","s":"AccY","v":-10.4},
      {"t":"13:00:57.600","s":"AccY","v":10.0},{"t":"13:01:02.000","s":"AccY","v":-10.3},{"t":"13:01:06.000","s":"AccY","v":10.1},
      {"t":"13:01:09.900","s":"AccY","v":-10.1},{"t":"13:01:14.000","s":"AccY","v":10.1},{"t":"13:01:17.900","s":"AccY","v":-10.2},
      {"t":"13:01:21.900","s":"AccY","v":10.0},{"t":"13:01:25.800","s":"AccY","v":-10.1},{"t":"13:01:29.900","s":"AccY","v":10.1},
      {"t":"13:01:33.900","s":"AccY","v":-10.3},{"t":"13:01:37.900","s":"AccY","v":10.1},{"t":"13:01:41.800","s":"AccY","v":-10.1},
      {"t":"13:01:45.900","s":"AccY","v":10.0},{"t":"13:01:49.900","s":"AccY","v":-10.2},{"t":"13:01:53.900","s":"AccY","v":10.1},
      {"t":"13:01:57.700","s":"AccY","v":-10.2},{"t":"13:02:00.000","s":"AccY","v":-1.7},

      {"t":"13:00:00.000","s":"AccZ","v":5.8},{"t":"13:00:03.500","s":"AccZ","v":-13.0},{"t":"13:00:07.400","s":"AccZ","v":6.8},
      {"t":"13:00:11.500","s":"AccZ","v":-13.0},{"t":"13:00:15.400","s":"AccZ","v":6.8},{"t":"13:00:19.500","s":"AccZ","v":-13.0},
      {"t":"13:00:23.400","s":"AccZ","v":6.8},{"t":"13:00:27.500","s":"AccZ","v":-13.0},{"t":"13:00:31.400","s":"AccZ","v":6.8},
      {"t":"13:00:35.400","s":"AccZ","v":-13.0},{"t":"13:00:39.400","s":"AccZ","v":6.8},{"t":"13:00:43.500","s":"AccZ","v":-13.0},
      {"t":"13:00:47.400","s":"AccZ","v":6.8},{"t":"13:00:51.400","s":"AccZ","v":-13.0},{"t":"13:00:55.300","s":"AccZ","v":6.8},
      {"t":"13:01:00.000","s":"AccZ","v":-13.0},{"t":"13:01:03.900","s":"AccZ","v":6.8},{"t":"13:01:08.000","s":"AccZ","v":-13.0},
      {"t":"13:01:11.800","s":"AccZ","v":6.8},{"t":"13:01:15.900","s":"AccZ","v":-13.0},{"t":"13:01:19.700","s":"AccZ","v":6.8},
      {"t":"13:01:23.900","s":"AccZ","v":-13.0},{"t":"13:01:27.800","s":"AccZ","v":6.8},{"t":"13:01:31.900","s":"AccZ","v":-13.0},
      {"t":"13:01:35.800","s":"AccZ","v":6.8},{"t":"13:01:39.800","s":"AccZ","v":-13.0},{"t":"13:01:43.700","s":"AccZ","v":6.8},
      {"t":"13:01:47.800","s":"AccZ","v":-13.0},{"t":"13:01:51.700","s":"AccZ","v":6.8},{"t":"13:01:55.800","s":"AccZ","v":-13.0},
      {"t":"13:02:00.000","s":"AccZ","v":6.4}
    ],
    "p4": [
      {"t":"1900-01-01T13:13:00","s":"AccX","v":-3.0},{"t":"1900-01-01T13:13:03","s":"AccX","v":5.0},{"t":"1900-01-01T13:13:07","s":"AccX","v":-6.0},{"t":"1900-01-01T13:13:11","s":"AccX","v":5.5},
      {"t":"1900-01-01T13:13:15","s":"AccX","v":-6.5},{"t":"1900-01-01T13:13:19","s":"AccX","v":6.0},{"t":"1900-01-01T13:13:24","s":"AccX","v":-6.5},{"t":"1900-01-01T13:13:28","s":"AccX","v":6.5},
      {"t":"1900-01-01T13:13:33","s":"AccX","v":-6.0},{"t":"1900-01-01T13:13:41","s":"AccX","v":6.8},{"t":"1900-01-01T13:13:50","s":"AccX","v":-8.7},{"t":"1900-01-01T13:14:09","s":"AccX","v":7.6},
      {"t":"1900-01-01T13:14:40","s":"AccX","v":-8.6},{"t":"1900-01-01T13:15:19","s":"AccX","v":7.6},{"t":"1900-01-01T13:15:58","s":"AccX","v":-8.6},{"t":"1900-01-01T13:16:34","s":"AccX","v":7.6},
      {"t":"1900-01-01T13:17:12","s":"AccX","v":-8.6},{"t":"1900-01-01T13:17:50","s":"AccX","v":7.6},{"t":"1900-01-01T13:18:26","s":"AccX","v":-8.6},{"t":"1900-01-01T13:19:01","s":"AccX","v":7.6},
      {"t":"1900-01-01T13:19:34","s":"AccX","v":-8.6},{"t":"1900-01-01T13:20:16","s":"AccX","v":7.6},{"t":"1900-01-01T13:20:49","s":"AccX","v":-8.6},{"t":"1900-01-01T13:21:22","s":"AccX","v":7.6},
      {"t":"1900-01-01T13:21:59","s":"AccX","v":-8.6},{"t":"1900-01-01T13:22:37","s":"AccX","v":7.6},{"t":"1900-01-01T13:23:13","s":"AccX","v":-8.6},{"t":"1900-01-01T13:23:53","s":"AccX","v":7.6},
      {"t":"1900-01-01T13:24:35","s":"AccX","v":-8.6},{"t":"1900-01-01T13:25:21","s":"AccX","v":7.6},{"t":"1900-01-01T13:25:57","s":"AccX","v":-8.1},{"t":"1900-01-01T13:26:07","s":"AccX","v":-8.7},
      {"t":"1900-01-01T13:26:11","s":"AccX","v":-9.0},{"t":"1900-01-01T13:26:12","s":"AccX","v":-11.9},{"t":"1900-01-01T13:26:13","s":"AccX","v":-6.0},{"t":"1900-01-01T13:26:14","s":"AccX","v":-10.8},
      {"t":"1900-01-01T13:26:15","s":"AccX","v":-7.5},{"t":"1900-01-01T13:26:16","s":"AccX","v":-10.3},{"t":"1900-01-01T13:26:18","s":"AccX","v":-8.2},{"t":"1900-01-01T13:26:20","s":"AccX","v":-9.9},
      {"t":"1900-01-01T13:26:23","s":"AccX","v":-8.8},{"t":"1900-01-01T13:26:26","s":"AccX","v":-9.6},{"t":"1900-01-01T13:26:30","s":"AccX","v":-9.2},{"t":"1900-01-01T13:26:35","s":"AccX","v":-9.4},
      {"t":"1900-01-01T13:26:39","s":"AccX","v":-8.4},{"t":"1900-01-01T13:26:40","s":"AccX","v":-9.4},{"t":"1900-01-01T13:26:50","s":"AccX","v":-9.3},{"t":"1900-01-01T13:27:00","s":"AccX","v":-9.3},

      {"t":"1900-01-01T13:13:00","s":"AccY","v":6.0},{"t":"1900-01-01T13:13:02","s":"AccY","v":10.3},{"t":"1900-01-01T13:13:06","s":"AccY","v":-9.0},{"t":"1900-01-01T13:13:11","s":"AccY","v":10.3},
      {"t":"1900-01-01T13:13:15","s":"AccY","v":-9.5},{"t":"1900-01-01T13:13:19","s":"AccY","v":10.5},{"t":"1900-01-01T13:13:23","s":"AccY","v":-9.5},{"t":"1900-01-01T13:13:28","s":"AccY","v":11.5},
      {"t":"1900-01-01T13:13:32","s":"AccY","v":-9.0},{"t":"1900-01-01T13:13:36","s":"AccY","v":9.5},{"t":"1900-01-01T13:13:42","s":"AccY","v":-6.0},{"t":"1900-01-01T13:13:50","s":"AccY","v":5.5},
      {"t":"1900-01-01T13:14:06","s":"AccY","v":-7.0},{"t":"1900-01-01T13:14:37","s":"AccY","v":5.2},{"t":"1900-01-01T13:15:16","s":"AccY","v":-6.6},{"t":"1900-01-01T13:15:53","s":"AccY","v":5.2},
      {"t":"1900-01-01T13:16:31","s":"AccY","v":-6.6},{"t":"1900-01-01T13:17:10","s":"AccY","v":5.3},{"t":"1900-01-01T13:17:46","s":"AccY","v":-6.6},{"t":"1900-01-01T13:18:22","s":"AccY","v":5.3},
      {"t":"1900-01-01T13:18:58","s":"AccY","v":-6.6},{"t":"1900-01-01T13:19:32","s":"AccY","v":5.3},{"t":"1900-01-01T13:20:14","s":"AccY","v":-6.6},{"t":"1900-01-01T13:20:44","s":"AccY","v":5.3},
      {"t":"1900-01-01T13:21:19","s":"AccY","v":-6.6},{"t":"1900-01-01T13:21:57","s":"AccY","v":5.3},{"t":"1900-01-01T13:22:34","s":"AccY","v":-6.6},{"t":"1900-01-01T13:23:08","s":"AccY","v":5.3},
      {"t":"1900-01-01T13:23:51","s":"AccY","v":-6.6},{"t":"1900-01-01T13:24:32","s":"AccY","v":5.3},{"t":"1900-01-01T13:25:17","s":"AccY","v":-6.6},{"t":"1900-01-01T13:26:01","s":"AccY","v":5.5},
      {"t":"1900-01-01T13:26:08","s":"AccY","v":5.0},{"t":"1900-01-01T13:26:11","s":"AccY","v":4.8},{"t":"1900-01-01T13:26:12","s":"AccY","v":8.3},{"t":"1900-01-01T13:26:13","s":"AccY","v":1.0},
      {"t":"1900-01-01T13:26:14","s":"AccY","v":7.0},{"t":"1900-01-01T13:26:15","s":"AccY","v":-1.5},{"t":"1900-01-01T13:26:16","s":"AccY","v":5.5},{"t":"1900-01-01T13:26:17","s":"AccY","v":0.0},
      {"t":"1900-01-01T13:26:18","s":"AccY","v":4.0},{"t":"1900-01-01T13:26:19","s":"AccY","v":-2.5},{"t":"1900-01-01T13:26:20","s":"AccY","v":3.0},{"t":"1900-01-01T13:26:22","s":"AccY","v":-1.0},
      {"t":"1900-01-01T13:26:23","s":"AccY","v":2.5},{"t":"1900-01-01T13:26:25","s":"AccY","v":-3.0},{"t":"1900-01-01T13:26:26","s":"AccY","v":1.0},{"t":"1900-01-01T13:26:28","s":"AccY","v":-2.0},
      {"t":"1900-01-01T13:26:30","s":"AccY","v":0.5},{"t":"1900-01-01T13:26:32","s":"AccY","v":-3.5},{"t":"1900-01-01T13:26:34","s":"AccY","v":-1.0},{"t":"1900-01-01T13:26:36","s":"AccY","v":-3.0},
      {"t":"1900-01-01T13:26:38","s":"AccY","v":-1.5},{"t":"1900-01-01T13:26:40","s":"AccY","v":-3.0},{"t":"1900-01-01T13:26:42","s":"AccY","v":-4.5},{"t":"1900-01-01T13:26:43","s":"AccY","v":-1.5},
      {"t":"1900-01-01T13:26:46","s":"AccY","v":-2.8},{"t":"1900-01-01T13:26:50","s":"AccY","v":-2.5},{"t":"1900-01-01T13:27:00","s":"AccY","v":-2.7},

      {"t":"1900-01-01T13:13:00","s":"AccZ","v":7.0},{"t":"1900-01-01T13:13:03","s":"AccZ","v":-13.0},{"t":"1900-01-01T13:13:08","s":"AccZ","v":7.5},{"t":"1900-01-01T13:13:13","s":"AccZ","v":-13.0},
      {"t":"1900-01-01T13:13:17","s":"AccZ","v":7.5},{"t":"1900-01-01T13:13:21","s":"AccZ","v":-13.0},{"t":"1900-01-01T13:13:25","s":"AccZ","v":7.5},{"t":"1900-01-01T13:13:29","s":"AccZ","v":-12.0},
      {"t":"1900-01-01T13:13:34","s":"AccZ","v":8.0},{"t":"1900-01-01T13:13:38","s":"AccZ","v":-11.5},{"t":"1900-01-01T13:13:44","s":"AccZ","v":9.3},{"t":"1900-01-01T13:13:57","s":"AccZ","v":-10.2},
      {"t":"1900-01-01T13:14:22","s":"AccZ","v":9.7},{"t":"1900-01-01T13:14:59","s":"AccZ","v":-10.1},{"t":"1900-01-01T13:15:38","s":"AccZ","v":9.7},{"t":"1900-01-01T13:16:15","s":"AccZ","v":-10.1},
      {"t":"1900-01-01T13:16:53","s":"AccZ","v":9.7},{"t":"1900-01-01T13:17:30","s":"AccZ","v":-10.1},{"t":"1900-01-01T13:18:06","s":"AccZ","v":9.7},{"t":"1900-01-01T13:18:42","s":"AccZ","v":-10.1},
      {"t":"1900-01-01T13:19:17","s":"AccZ","v":9.7},{"t":"1900-01-01T13:19:58","s":"AccZ","v":-10.1},{"t":"1900-01-01T13:20:32","s":"AccZ","v":9.7},{"t":"1900-01-01T13:21:05","s":"AccZ","v":-10.1},
      {"t":"1900-01-01T13:21:40","s":"AccZ","v":9.7},{"t":"1900-01-01T13:22:18","s":"AccZ","v":-10.1},{"t":"1900-01-01T13:22:56","s":"AccZ","v":9.7},{"t":"1900-01-01T13:23:33","s":"AccZ","v":-10.1},
      {"t":"1900-01-01T13:24:13","s":"AccZ","v":9.7},{"t":"1900-01-01T13:24:56","s":"AccZ","v":-10.1},{"t":"1900-01-01T13:25:44","s":"AccZ","v":9.7},{"t":"1900-01-01T13:25:57","s":"AccZ","v":5.1},
      {"t":"1900-01-01T13:26:06","s":"AccZ","v":0.5},{"t":"1900-01-01T13:26:12","s":"AccZ","v":-3.4},{"t":"1900-01-01T13:26:13","s":"AccZ","v":-4.5},{"t":"1900-01-01T13:26:14","s":"AccZ","v":-3.0},
      {"t":"1900-01-01T13:26:16","s":"AccZ","v":-3.8},{"t":"1900-01-01T13:26:20","s":"AccZ","v":-3.4},{"t":"1900-01-01T13:26:30","s":"AccZ","v":-3.5},{"t":"1900-01-01T13:27:00","s":"AccZ","v":-3.5}
    ]
  },
  "vconcat": [
    {
      "width": 914, "height": 317,
      "title": "Messwerte Beschleunigung von Sensorknoten Blattwurzel",
      "layer": [
        {
          "data": {"name": "band", "format": {"parse": {"t": "date:'%H:%M:%S'"}}},
          "mark": {"type": "area"},
          "encoding": {
            "x": {"field": "t", "type": "temporal",
              "scale": {"domain": [{"year":1900,"month":1,"date":1,"hours":11,"minutes":22}, {"year":1900,"month":1,"date":1,"hours":13,"minutes":55}], "nice": false},
              "axis": {"title": "Uhrzeit", "format": "%H:%M", "grid": true, "values": [
                {"year":1900,"month":1,"date":1,"hours":11,"minutes":25}, {"year":1900,"month":1,"date":1,"hours":11,"minutes":40},
                {"year":1900,"month":1,"date":1,"hours":11,"minutes":55}, {"year":1900,"month":1,"date":1,"hours":12,"minutes":10},
                {"year":1900,"month":1,"date":1,"hours":12,"minutes":25}, {"year":1900,"month":1,"date":1,"hours":12,"minutes":40},
                {"year":1900,"month":1,"date":1,"hours":12,"minutes":55}, {"year":1900,"month":1,"date":1,"hours":13,"minutes":10},
                {"year":1900,"month":1,"date":1,"hours":13,"minutes":25}, {"year":1900,"month":1,"date":1,"hours":13,"minutes":40},
                {"year":1900,"month":1,"date":1,"hours":13,"minutes":55}]}},
            "y": {"field": "lo", "type": "quantitative", "stack": null,
              "scale": {"domain": [-35, 20], "nice": false, "zero": false},
              "axis": {"title": "Beschleunigung [m/s²]", "grid": true, "values": [-30, -20, -10, 0, 10, 20]}},
            "y2": {"field": "hi"},
            "color": {"field": "s", "type": "nominal", "legend": null,
              "scale": {"domain": ["AccX", "AccY", "AccZ"], "range": ["#0072BD", "#D95319", "#EDB120"]}}
          }
        },
        {
          "data": {"name": "p1a", "format": {"parse": {"t": "date:'%H:%M:%S'"}}},
          "mark": {"type": "line"},
          "encoding": {
            "x": {"field": "t", "type": "temporal",
              "axis": {"orient": "top", "labels": false, "grid": false, "title": null, "values": [
                {"year":1900,"month":1,"date":1,"hours":11,"minutes":25}, {"year":1900,"month":1,"date":1,"hours":11,"minutes":40},
                {"year":1900,"month":1,"date":1,"hours":11,"minutes":55}, {"year":1900,"month":1,"date":1,"hours":12,"minutes":10},
                {"year":1900,"month":1,"date":1,"hours":12,"minutes":25}, {"year":1900,"month":1,"date":1,"hours":12,"minutes":40},
                {"year":1900,"month":1,"date":1,"hours":12,"minutes":55}, {"year":1900,"month":1,"date":1,"hours":13,"minutes":10},
                {"year":1900,"month":1,"date":1,"hours":13,"minutes":25}, {"year":1900,"month":1,"date":1,"hours":13,"minutes":40}]}},
            "y": {"field": "v", "type": "quantitative",
              "axis": {"orient": "right", "labels": false, "grid": false, "title": null, "values": [-30, -20, -10, 0, 10, 20]}},
            "color": {"field": "s", "type": "nominal", "legend": {"title": null},
              "scale": {"domain": ["AccX", "AccY", "AccZ"], "range": ["#0072BD", "#D95319", "#EDB120"]}}
          }
        },
        {
          "data": {"name": "p1b", "format": {"parse": {"t": "date:'%H:%M:%S'"}}},
          "mark": {"type": "line"},
          "encoding": {
            "x": {"field": "t", "type": "temporal", "axis": null},
            "y": {"field": "v", "type": "quantitative", "axis": null},
            "color": {"field": "s", "type": "nominal", "legend": {"title": null},
              "scale": {"domain": ["AccX", "AccY", "AccZ"], "range": ["#0072BD", "#D95319", "#EDB120"]}}
          }
        },
        {
          "data": {"name": "p4", "format": {"parse": {"t": "date"}}},
          "mark": {"type": "line"},
          "encoding": {
            "x": {"field": "t", "type": "temporal", "axis": null},
            "y": {"field": "v", "type": "quantitative", "axis": null},
            "color": {"field": "s", "type": "nominal", "legend": {"title": null},
              "scale": {"domain": ["AccX", "AccY", "AccZ"], "range": ["#0072BD", "#D95319", "#EDB120"]}}
          }
        }
      ],
      "resolve": {"axis": {"x": "independent", "y": "independent"}}
    },
    {
      "width": 914, "height": 318,
      "title": "Hochfahren der WEA",
      "data": {"name": "p2", "format": {"parse": {"t": "date:'%H:%M:%S'"}}},
      "encoding": {
        "color": {"field": "s", "type": "nominal", "legend": {"title": null},
          "scale": {"domain": ["AccX", "AccY", "AccZ"], "range": ["#0072BD", "#D95319", "#EDB120"]}}
      },
      "layer": [
        {
          "transform": [{"filter": {"field": "s", "equal": "AccX"}}],
          "mark": {"type": "line"},
          "encoding": {
            "x": {"field": "t", "type": "temporal",
              "scale": {"domain": [{"year":1900,"month":1,"date":1,"hours":11,"minutes":49}, {"year":1900,"month":1,"date":1,"hours":12,"minutes":0}], "nice": false},
              "axis": {"title": "Uhrzeit", "format": "%H:%M:%S", "grid": true, "values": [
                {"year":1900,"month":1,"date":1,"hours":11,"minutes":50}, {"year":1900,"month":1,"date":1,"hours":11,"minutes":52,"seconds":30},
                {"year":1900,"month":1,"date":1,"hours":11,"minutes":55}, {"year":1900,"month":1,"date":1,"hours":11,"minutes":57,"seconds":30},
                {"year":1900,"month":1,"date":1,"hours":12,"minutes":0}]}},
            "y": {"field": "v", "type": "quantitative",
              "scale": {"domain": [-35, 20], "nice": false, "zero": false},
              "axis": {"title": "Beschleunigung [m/s²]", "grid": true, "values": [-30, -20, -10, 0, 10, 20]}}
          }
        },
        {
          "transform": [{"filter": {"field": "s", "equal": "AccY"}}],
          "mark": {"type": "line"},
          "encoding": {
            "x": {"field": "t", "type": "temporal",
              "axis": {"orient": "top", "labels": false, "grid": false, "title": null, "values": [
                {"year":1900,"month":1,"date":1,"hours":11,"minutes":50}, {"year":1900,"month":1,"date":1,"hours":11,"minutes":52,"seconds":30},
                {"year":1900,"month":1,"date":1,"hours":11,"minutes":55}, {"year":1900,"month":1,"date":1,"hours":11,"minutes":57,"seconds":30}]}},
            "y": {"field": "v", "type": "quantitative",
              "axis": {"orient": "right", "labels": false, "grid": false, "title": null, "values": [-30, -20, -10, 0, 10, 20]}}
          }
        },
        {
          "transform": [{"filter": {"field": "s", "equal": "AccZ"}}],
          "mark": {"type": "line"},
          "encoding": {
            "x": {"field": "t", "type": "temporal", "axis": null},
            "y": {"field": "v", "type": "quantitative", "axis": null}
          }
        }
      ],
      "resolve": {"axis": {"x": "independent", "y": "independent"}}
    },
    {
      "width": 914, "height": 318,
      "title": "Normalbetrieb der WEA",
      "data": {"name": "p3", "format": {"parse": {"t": "date:'%H:%M:%S.%L'"}}},
      "encoding": {
        "color": {"field": "s", "type": "nominal", "legend": {"title": null},
          "scale": {"domain": ["AccX", "AccY", "AccZ"], "range": ["#0072BD", "#D95319", "#EDB120"]}}
      },
      "layer": [
        {
          "transform": [{"filter": {"field": "s", "equal": "AccX"}}],
          "mark": {"type": "line"},
          "encoding": {
            "x": {"field": "t", "type": "temporal",
              "scale": {"domain": [{"year":1900,"month":1,"date":1,"hours":13,"minutes":0}, {"year":1900,"month":1,"date":1,"hours":13,"minutes":2}], "nice": false},
              "axis": {"title": "Uhrzeit", "format": "%H:%M:%S", "grid": true, "values": [
                {"year":1900,"month":1,"date":1,"hours":13,"minutes":0}, {"year":1900,"month":1,"date":1,"hours":13,"minutes":0,"seconds":15},
                {"year":1900,"month":1,"date":1,"hours":13,"minutes":0,"seconds":30}, {"year":1900,"month":1,"date":1,"hours":13,"minutes":0,"seconds":45},
                {"year":1900,"month":1,"date":1,"hours":13,"minutes":1}, {"year":1900,"month":1,"date":1,"hours":13,"minutes":1,"seconds":15},
                {"year":1900,"month":1,"date":1,"hours":13,"minutes":1,"seconds":30}, {"year":1900,"month":1,"date":1,"hours":13,"minutes":1,"seconds":45},
                {"year":1900,"month":1,"date":1,"hours":13,"minutes":2}]}},
            "y": {"field": "v", "type": "quantitative",
              "scale": {"domain": [-35, 20], "nice": false, "zero": false},
              "axis": {"title": "Beschleunigung [m/s²]", "grid": true, "values": [-30, -20, -10, 0, 10, 20]}}
          }
        },
        {
          "transform": [{"filter": {"field": "s", "equal": "AccY"}}],
          "mark": {"type": "line", "strokeWidth": 2.8},
          "encoding": {
            "x": {"field": "t", "type": "temporal",
              "axis": {"orient": "top", "labels": false, "grid": false, "title": null, "values": [
                {"year":1900,"month":1,"date":1,"hours":13,"minutes":0,"seconds":15},
                {"year":1900,"month":1,"date":1,"hours":13,"minutes":0,"seconds":30}, {"year":1900,"month":1,"date":1,"hours":13,"minutes":0,"seconds":45},
                {"year":1900,"month":1,"date":1,"hours":13,"minutes":1}, {"year":1900,"month":1,"date":1,"hours":13,"minutes":1,"seconds":15},
                {"year":1900,"month":1,"date":1,"hours":13,"minutes":1,"seconds":30}, {"year":1900,"month":1,"date":1,"hours":13,"minutes":1,"seconds":45}]}},
            "y": {"field": "v", "type": "quantitative",
              "axis": {"orient": "right", "labels": false, "grid": false, "title": null, "values": [-30, -20, -10, 0, 10, 20]}}
          }
        },
        {
          "transform": [{"filter": {"field": "s", "equal": "AccZ"}}],
          "mark": {"type": "line"},
          "encoding": {
            "x": {"field": "t", "type": "temporal", "axis": null},
            "y": {"field": "v", "type": "quantitative", "axis": null}
          }
        }
      ],
      "resolve": {"axis": {"x": "independent", "y": "independent"}}
    },
    {
      "width": 914, "height": 318,
      "title": "Auspitchen und Austrudeln der WEA",
      "data": {"name": "p4", "format": {"parse": {"t": "date"}}},
      "encoding": {
        "color": {"field": "s", "type": "nominal", "legend": {"title": null},
          "scale": {"domain": ["AccX", "AccY", "AccZ"], "range": ["#0072BD", "#D95319", "#EDB120"]}}
      },
      "layer": [
        {
          "transform": [{"filter": {"field": "s", "equal": "AccX"}}],
          "mark": {"type": "line"},
          "encoding": {
            "x": {"field": "t", "type": "temporal",
              "scale": {"domain": [{"year":1900,"month":1,"date":1,"hours":13,"minutes":13}, {"year":1900,"month":1,"date":1,"hours":13,"minutes":27}], "nice": false},
              "axis": {"title": "Uhrzeit", "format": "%H:%M:%S", "grid": true, "values": [
                {"year":1900,"month":1,"date":1,"hours":13,"minutes":13}, {"year":1900,"month":1,"date":1,"hours":13,"minutes":15},
                {"year":1900,"month":1,"date":1,"hours":13,"minutes":17,"seconds":30}, {"year":1900,"month":1,"date":1,"hours":13,"minutes":20},
                {"year":1900,"month":1,"date":1,"hours":13,"minutes":22,"seconds":30}, {"year":1900,"month":1,"date":1,"hours":13,"minutes":25},
                {"year":1900,"month":1,"date":1,"hours":13,"minutes":27}]}},
            "y": {"field": "v", "type": "quantitative",
              "scale": {"domain": [-35, 20], "nice": false, "zero": false},
              "axis": {"title": "Beschleunigung [m/s²]", "grid": true, "values": [-30, -20, -10, 0, 10, 20]}}
          }
        },
        {
          "transform": [{"filter": {"field": "s", "equal": "AccY"}}],
          "mark": {"type": "line", "strokeWidth": 2.6},
          "encoding": {
            "x": {"field": "t", "type": "temporal",
              "axis": {"orient": "top", "labels": false, "grid": false, "title": null, "values": [
                {"year":1900,"month":1,"date":1,"hours":13,"minutes":15},
                {"year":1900,"month":1,"date":1,"hours":13,"minutes":17,"seconds":30}, {"year":1900,"month":1,"date":1,"hours":13,"minutes":20},
                {"year":1900,"month":1,"date":1,"hours":13,"minutes":22,"seconds":30}, {"year":1900,"month":1,"date":1,"hours":13,"minutes":25}]}},
            "y": {"field": "v", "type": "quantitative",
              "axis": {"orient": "right", "labels": false, "grid": false, "title": null, "values": [-30, -20, -10, 0, 10, 20]}}
          }
        },
        {
          "transform": [{"filter": {"field": "s", "equal": "AccZ"}}],
          "mark": {"type": "line"},
          "encoding": {
            "x": {"field": "t", "type": "temporal", "axis": null},
            "y": {"field": "v", "type": "quantitative", "axis": null}
          }
        }
      ],
      "resolve": {"axis": {"x": "independent", "y": "independent"}}
    }
  ]
}
